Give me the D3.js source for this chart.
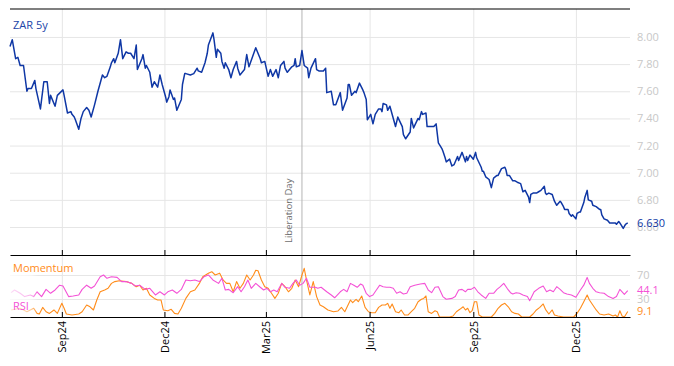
<!DOCTYPE html>
<html><head><meta charset="utf-8">
<script src="https://cdn.jsdelivr.net/npm/d3@7"></script>
<style>
body{margin:0;background:#fff}
svg{display:block}
text{font-family:"Open Sans","Noto Sans",sans-serif}
</style>
</head><body>
<svg id="chart" width="674" height="366"></svg>
<script>
// ---------- data ----------
const seriesName = "ZAR 5y";
const priceDates = [
"2024-07-17","2024-07-19","2024-07-22","2024-07-24","2024-07-26","2024-07-29",
"2024-08-01","2024-08-02","2024-08-05","2024-08-08","2024-08-09","2024-08-13","2024-08-16","2024-08-19","2024-08-21","2024-08-22","2024-08-26","2024-08-28",
"2024-09-02","2024-09-03","2024-09-06","2024-09-09","2024-09-10","2024-09-12","2024-09-13","2024-09-16","2024-09-18","2024-09-20","2024-09-23","2024-09-25","2024-09-27","2024-09-30",
"2024-10-03","2024-10-07","2024-10-09","2024-10-11","2024-10-14","2024-10-15","2024-10-17","2024-10-18","2024-10-21","2024-10-23","2024-10-25","2024-10-28","2024-10-30",
"2024-11-01","2024-11-04","2024-11-06","2024-11-07","2024-11-11","2024-11-12","2024-11-14","2024-11-15","2024-11-18","2024-11-20","2024-11-22","2024-11-25","2024-11-27","2024-11-29",
"2024-12-02","2024-12-03","2024-12-05","2024-12-06","2024-12-09","2024-12-10","2024-12-12","2024-12-16","2024-12-17","2024-12-19","2024-12-20","2024-12-24","2024-12-27","2024-12-30","2024-12-31",
"2025-01-03","2025-01-06","2025-01-08","2025-01-09","2025-01-13","2025-01-14","2025-01-16","2025-01-17","2025-01-20","2025-01-21","2025-01-23","2025-01-24","2025-01-27","2025-01-29","2025-01-31",
"2025-02-03","2025-02-04","2025-02-06","2025-02-10","2025-02-12","2025-02-14","2025-02-17","2025-02-20","2025-02-24","2025-02-25","2025-02-28",
"2025-03-03","2025-03-05","2025-03-07","2025-03-10","2025-03-12","2025-03-14","2025-03-17","2025-03-18","2025-03-20","2025-03-24","2025-03-26","2025-03-27","2025-03-28","2025-03-31",
"2025-04-02","2025-04-04","2025-04-07","2025-04-08","2025-04-10","2025-04-14","2025-04-15","2025-04-17","2025-04-21","2025-04-23","2025-04-24","2025-04-28","2025-04-30",
"2025-05-02","2025-05-06","2025-05-08","2025-05-12","2025-05-13","2025-05-14","2025-05-16","2025-05-19","2025-05-20","2025-05-23","2025-05-26","2025-05-27","2025-05-29","2025-05-30",
"2025-06-02","2025-06-04","2025-06-06","2025-06-09","2025-06-11","2025-06-12","2025-06-13","2025-06-16","2025-06-17","2025-06-19","2025-06-20","2025-06-24","2025-06-26","2025-06-30",
"2025-07-01","2025-07-03","2025-07-07","2025-07-08","2025-07-10","2025-07-14","2025-07-15","2025-07-17","2025-07-18","2025-07-21","2025-07-22","2025-07-24","2025-07-28","2025-07-30",
"2025-08-01","2025-08-04","2025-08-05","2025-08-07","2025-08-08","2025-08-11","2025-08-13","2025-08-15","2025-08-18","2025-08-19","2025-08-22","2025-08-25","2025-08-26","2025-08-27","2025-08-29",
"2025-09-01","2025-09-03","2025-09-04","2025-09-08","2025-09-09","2025-09-10","2025-09-12","2025-09-15","2025-09-17","2025-09-19","2025-09-22","2025-09-23","2025-09-26","2025-09-29","2025-09-30",
"2025-10-01","2025-10-03","2025-10-06","2025-10-08","2025-10-10","2025-10-13","2025-10-15","2025-10-17","2025-10-20","2025-10-21","2025-10-22","2025-10-24","2025-10-27","2025-10-29","2025-10-31",
"2025-11-03","2025-11-04","2025-11-05","2025-11-07","2025-11-10","2025-11-12","2025-11-14","2025-11-17","2025-11-18","2025-11-20","2025-11-21","2025-11-24","2025-11-25","2025-11-27","2025-11-28",
"2025-12-01","2025-12-02","2025-12-04","2025-12-05","2025-12-08","2025-12-09","2025-12-11","2025-12-12","2025-12-15","2025-12-16","2025-12-19","2025-12-22","2025-12-23","2025-12-24","2025-12-26","2025-12-29","2025-12-31",
"2026-01-02","2026-01-05","2026-01-06","2026-01-08","2026-01-09","2026-01-12","2026-01-14","2026-01-16"
];
const priceValues = [
7.93,7.98,7.84,7.85,7.79,7.79,
7.60,7.62,7.62,7.68,7.62,7.47,7.67,7.67,7.51,7.57,7.49,7.57,
7.61,7.57,7.44,7.45,7.43,7.41,7.39,7.32,7.40,7.45,7.48,7.46,7.41,7.50,
7.60,7.72,7.70,7.71,7.78,7.81,7.84,7.81,7.88,7.98,7.84,7.89,7.88,
7.88,7.84,7.94,7.76,7.84,7.87,7.77,7.79,7.74,7.63,7.67,7.63,7.72,7.65,
7.56,7.52,7.56,7.61,7.54,7.55,7.46,7.54,7.65,7.73,7.73,7.72,7.73,7.77,7.75,
7.74,7.81,7.88,7.94,8.03,7.98,7.85,7.91,7.88,7.82,7.77,7.81,7.76,7.70,7.76,
7.82,7.77,7.72,7.76,7.87,7.78,7.85,7.92,7.84,7.81,7.82,
7.71,7.76,7.71,7.76,7.70,7.79,7.82,7.77,7.74,7.78,7.79,7.84,7.78,7.79,
7.90,7.79,7.77,7.70,7.77,7.84,7.76,7.75,7.75,7.77,7.59,7.60,7.50,
7.50,7.59,7.46,7.55,7.65,7.65,7.57,7.60,7.59,7.66,7.61,7.59,7.54,7.39,
7.43,7.36,7.43,7.47,7.47,7.45,7.51,7.50,7.46,7.49,7.46,7.34,7.41,7.34,
7.28,7.25,7.30,7.40,7.33,7.40,7.39,7.45,7.43,7.44,7.34,7.34,7.34,7.36,
7.22,7.18,7.16,7.11,7.08,7.10,7.05,7.06,7.12,7.09,7.15,7.08,7.12,7.09,7.13,
7.10,7.15,7.11,7.04,7.01,7.01,6.97,6.95,6.89,6.96,6.98,6.98,7.03,7.04,7.02,
6.98,6.98,6.94,6.94,6.93,6.92,6.86,6.87,6.82,6.78,6.84,6.85,6.85,6.86,6.87,
6.90,6.85,6.84,6.85,6.84,6.79,6.76,6.79,6.78,6.75,6.73,6.73,6.70,6.68,6.69,
6.66,6.70,6.71,6.71,6.78,6.82,6.87,6.80,6.79,6.76,6.75,6.73,6.73,6.69,6.66,6.65,6.63,
6.63,6.63,6.62,6.64,6.63,6.59,6.62,6.63
];
const rsiDates = [
"2024-07-18","2024-07-21","2024-07-26","2024-07-30","2024-08-04","2024-08-07","2024-08-10","2024-08-14","2024-08-18","2024-08-22","2024-08-26","2024-08-30",
"2024-09-02","2024-09-07","2024-09-11","2024-09-16","2024-09-19","2024-09-23","2024-09-27","2024-09-30",
"2024-10-05","2024-10-08","2024-10-11","2024-10-15","2024-10-20","2024-10-24","2024-10-28",
"2024-11-02","2024-11-05","2024-11-09","2024-11-14","2024-11-18","2024-11-23","2024-11-27",
"2024-12-01","2024-12-04","2024-12-08","2024-12-12","2024-12-16","2024-12-20","2024-12-24","2024-12-28",
"2025-01-01","2025-01-05","2025-01-09","2025-01-13","2025-01-18","2025-01-21","2025-01-24","2025-01-27","2025-01-31",
"2025-02-04","2025-02-07","2025-02-10","2025-02-13","2025-02-16","2025-02-20","2025-02-24","2025-02-27",
"2025-03-02","2025-03-05","2025-03-08","2025-03-11","2025-03-15","2025-03-18","2025-03-22","2025-03-25","2025-03-28","2025-03-31",
"2025-04-03","2025-04-06","2025-04-09","2025-04-14","2025-04-16","2025-04-19","2025-04-24","2025-04-28",
"2025-05-01","2025-05-06","2025-05-09","2025-05-12","2025-05-15","2025-05-18","2025-05-21","2025-05-24","2025-05-26","2025-05-29",
"2025-06-01","2025-06-04","2025-06-07","2025-06-10","2025-06-13","2025-06-16","2025-06-19","2025-06-22","2025-06-25","2025-06-28",
"2025-07-01","2025-07-04","2025-07-07","2025-07-11","2025-07-16","2025-07-20","2025-07-23","2025-07-26","2025-07-29",
"2025-08-01","2025-08-05","2025-08-08","2025-08-13","2025-08-16","2025-08-19","2025-08-22","2025-08-25","2025-08-27","2025-08-30",
"2025-09-02","2025-09-05","2025-09-08","2025-09-12","2025-09-15","2025-09-19","2025-09-22","2025-09-25","2025-09-28",
"2025-10-01","2025-10-04","2025-10-06","2025-10-09","2025-10-12","2025-10-15","2025-10-19","2025-10-21","2025-10-25","2025-10-29",
"2025-11-02","2025-11-05","2025-11-08","2025-11-11","2025-11-14","2025-11-17","2025-11-20","2025-11-23","2025-11-27",
"2025-12-01","2025-12-05","2025-12-08","2025-12-11","2025-12-13","2025-12-16","2025-12-19","2025-12-22","2025-12-26","2025-12-30",
"2026-01-03","2026-01-06","2026-01-09","2026-01-13","2026-01-16"
];
const rsiValues = [
40.5,45,39.5,34,36.7,34,42,34,46,39.5,45,53,
51.7,34,35,36.7,46,53,47.8,51.7,
67,70,64.5,67,66,59,59,
56,51.7,53,46,47.8,36.7,42,
36.7,42,45,39.5,46,61.7,60.5,61.7,
59,67,70,61.7,56,64.5,45,46,40.5,
50.5,42,50.5,61.7,47.8,56,49.5,45,
47.8,42,45,42,56,49.5,47.8,56,61.7,53,
56,64.5,49.5,49.5,47.8,49.5,42,36.7,
32,42,46,42,56,53,49.5,55,53,39.5,
34,36.7,45,53,50.5,49.5,49.5,47.8,39.5,42,
38.3,39.5,50.5,53,55,56,45,40.5,49.5,
50.5,34,29.5,31,34,45,46,42,46,46,
49.5,42,36.7,31,39.5,39.5,46,50.5,56,
47.8,40.5,38.3,40.5,39.5,36.7,34,27,42,47.8,
51.7,42,45,42,50.5,46,40.5,38.3,36.7,
33,45,53,66,56,47.8,42,40.5,39.5,34,
31,34,46,37.8,44.1
];
const momDates = [
"2024-07-18","2024-07-26","2024-08-01","2024-08-07","2024-08-10","2024-08-12","2024-08-15","2024-08-18","2024-08-21","2024-08-25","2024-08-28",
"2024-09-01","2024-09-03","2024-09-05","2024-09-10","2024-09-16","2024-09-19","2024-09-23","2024-09-26","2024-09-29",
"2024-10-02","2024-10-05","2024-10-09","2024-10-12","2024-10-15","2024-10-18","2024-10-22","2024-10-28",
"2024-11-02","2024-11-06","2024-11-09","2024-11-12","2024-11-15","2024-11-18","2024-11-22","2024-11-25","2024-11-28","2024-11-30",
"2024-12-04","2024-12-07","2024-12-10","2024-12-13","2024-12-16","2024-12-20","2024-12-24","2024-12-28",
"2025-01-01","2025-01-04","2025-01-09","2025-01-12","2025-01-15","2025-01-19","2025-01-22","2025-01-25","2025-01-28","2025-01-31",
"2025-02-03","2025-02-06","2025-02-09","2025-02-12","2025-02-15","2025-02-18","2025-02-20","2025-02-22","2025-02-25","2025-02-28",
"2025-03-03","2025-03-06","2025-03-09","2025-03-12","2025-03-15","2025-03-18","2025-03-21","2025-03-24","2025-03-27","2025-03-30",
"2025-04-02","2025-04-04","2025-04-06","2025-04-09","2025-04-12","2025-04-15","2025-04-18","2025-04-21","2025-04-25","2025-04-30",
"2025-05-04","2025-05-07","2025-05-10","2025-05-15","2025-05-17","2025-05-20","2025-05-22","2025-05-25","2025-05-28","2025-05-31",
"2025-06-03","2025-06-06","2025-06-09","2025-06-12","2025-06-15","2025-06-17","2025-06-19","2025-06-21","2025-06-24","2025-06-27","2025-06-29",
"2025-07-02","2025-07-05","2025-07-08","2025-07-11","2025-07-14","2025-07-17","2025-07-19","2025-07-21","2025-07-23","2025-07-26","2025-07-29","2025-07-31",
"2025-08-02","2025-08-07","2025-08-11","2025-08-14","2025-08-17","2025-08-20","2025-08-23","2025-08-25","2025-08-27","2025-08-29","2025-08-31",
"2025-09-02","2025-09-04","2025-09-06","2025-09-09","2025-09-13","2025-09-17","2025-09-20","2025-09-23","2025-09-26","2025-09-29",
"2025-10-02","2025-10-05","2025-10-08","2025-10-11","2025-10-14","2025-10-18","2025-10-21","2025-10-24","2025-10-27","2025-10-30",
"2025-11-02","2025-11-04","2025-11-07","2025-11-10","2025-11-12","2025-11-15","2025-11-20","2025-11-24","2025-11-29",
"2025-12-02","2025-12-05","2025-12-08","2025-12-11","2025-12-13","2025-12-16","2025-12-19","2025-12-22","2025-12-26","2025-12-30",
"2026-01-03","2026-01-05","2026-01-07","2026-01-09","2026-01-11","2026-01-13","2026-01-16"
];
const momValues = [
11.7,14.5,8.8,14.5,6,5,16,8.8,6,11.7,6,
22.8,14.5,5,3.3,5,8.8,20,17,11.7,
28.3,42,45,47.8,56,59,60.5,59,
56,50.5,53,45,47.8,36.7,31,28.3,28.3,11.7,
10.5,12.8,6,5,14.5,31,42,45,
56,67,73,75.5,70,73,61.7,56,56,42,
59,47.8,56,70,61.7,70,78,77,61.7,50.5,
47.8,39.5,31,39.5,56,50.5,42,47.8,61.7,50.5,
70,81,61.7,36.7,59,34,20,17,11.7,8.8,
10,16,8.8,28.3,23.8,29.5,25.5,35,16,8.8,
7.2,7.2,16,20,20,22.8,14.5,21.7,8.8,7.2,11.7,
3.3,3.3,8.8,14.5,25.5,29.5,31,35,8.8,6,10.5,8.8,
0,0,0,1.7,8.8,12.8,17,11.7,14.5,7.2,10.5,
25.5,25.5,3.3,0,0,0,6,14.5,20,22.8,
17,8.8,6,5,0,0,0,5,11.7,16,
21.7,12.8,5,11.7,3.3,1.7,0,0,0,
6,14.5,25.5,36.7,28.3,20,11.7,5,3.3,5,
1.7,3.3,0,10.5,1.7,0,9.1
];
const priceTicks = [6.6,6.8,7.0,7.2,7.4,7.6,7.8,8.0];
const indicatorTicks = [30,70];
const monthTicks = ["2024-09-01","2024-12-01","2025-03-01","2025-06-01","2025-09-01","2025-12-01"];
const eventDate = "2025-04-02";
const eventLabel = "Liberation Day";
const xDomain = ["2024-07-17","2026-01-18"];

// ---------- layout / style ----------
const L = 10, R = 630, mainTop = 9, mainBot = 255, indTop = 255, indBot = 317;
const C = {price:"#0f37a5", priceText:"#2145a8", rsi:"#f452d6", mom:"#ff8c1a",
           grid:"#e6e6e6", axisText:"#c8c8c8", event:"#b4b4b4", eventText:"#6e6e6e"};

const parse = d3.utcParse("%Y-%m-%d");
const price = priceDates.map((d,i)=>({date:parse(d), value:priceValues[i]}));
const rsi = rsiDates.map((d,i)=>({date:parse(d), value:rsiValues[i]}));
const mom = momDates.map((d,i)=>({date:parse(d), value:momValues[i]}));
const months = monthTicks.map(parse);

const svg = d3.select("#chart");
const x = d3.scaleUtc().domain(xDomain.map(parse)).range([L, R]);
const y = d3.scaleLinear().domain([6.394, 8.206]).range([mainBot, mainTop]);
const yi = d3.scaleLinear().domain([0, 103.3]).range([indBot, indTop]);

function styleGrid(g){ g.select(".domain").remove(); g.selectAll("line").attr("stroke", C.grid).attr("stroke-width",1); }

// grids
svg.append("g").attr("transform",`translate(${L},0)`)
  .call(d3.axisRight(y).tickValues(priceTicks).tickSize(R-L).tickFormat("")).call(styleGrid);
svg.append("g").attr("transform",`translate(${L},0)`)
  .call(d3.axisRight(yi).tickValues(indicatorTicks).tickSize(R-L).tickFormat("")).call(styleGrid);
svg.append("g").attr("transform",`translate(0,${mainBot})`)
  .call(d3.axisTop(x).tickValues(months).tickSize(mainBot-mainTop).tickFormat("")).call(styleGrid);
svg.append("g").attr("transform",`translate(0,${indBot})`)
  .call(d3.axisTop(x).tickValues(months).tickSize(indBot-indTop).tickFormat("")).call(styleGrid);

// event line
const ex = x(parse(eventDate));
svg.append("line").attr("x1",ex).attr("x2",ex).attr("y1",mainTop).attr("y2",indBot)
  .attr("stroke",C.event).attr("stroke-width",1);
svg.append("text").attr("transform",`translate(${ex-10},${mainBot-12}) rotate(-90)`)
  .attr("text-anchor","start").attr("font-size",9.5).attr("fill",C.eventText).text(eventLabel);

// lines
const line = (ys)=>d3.line().x(d=>x(d.date)).y(d=>ys(d.value));
svg.append("path").datum(mom).attr("d",line(yi)).attr("fill","none").attr("stroke",C.mom).attr("stroke-width",1.1).attr("stroke-linejoin","round");
svg.append("path").datum(rsi).attr("d",line(yi)).attr("fill","none").attr("stroke",C.rsi).attr("stroke-width",1.1).attr("stroke-linejoin","round");
svg.append("path").datum(price).attr("d",line(y)).attr("fill","none").attr("stroke",C.price).attr("stroke-width",1.5).attr("stroke-linejoin","round");

// fade at start of indicators
const defs = svg.append("defs");
const grad = defs.append("linearGradient").attr("id","fade").attr("x1","0").attr("x2","1").attr("y1","0").attr("y2","0");
grad.append("stop").attr("offset","0%").attr("stop-color","#fff").attr("stop-opacity",0.8);
grad.append("stop").attr("offset","75%").attr("stop-color","#fff").attr("stop-opacity",0.55);
grad.append("stop").attr("offset","100%").attr("stop-color","#fff").attr("stop-opacity",0);
svg.append("rect").attr("x",L).attr("y",indTop+1).attr("width",28).attr("height",indBot-indTop-2).attr("fill","url(#fade)");

// axes (black lines)
svg.append("line").attr("x1",L).attr("x2",R).attr("y1",mainTop).attr("y2",mainTop).attr("stroke","#000").attr("stroke-width",1.2);
const midAxis = svg.append("g").attr("transform",`translate(0,${mainBot})`)
  .call(d3.axisBottom(x).tickValues(months).tickSizeInner(-5).tickSizeOuter(0).tickFormat(""));
midAxis.selectAll("path,line").attr("stroke","#000");
const botAxis = svg.append("g").attr("transform",`translate(0,${indBot})`)
  .call(d3.axisBottom(x).tickValues(months).tickSizeInner(-5).tickSizeOuter(0).tickFormat(d3.utcFormat("%b%y")));
botAxis.selectAll("path,line").attr("stroke","#000");
botAxis.selectAll("text").attr("transform","rotate(-90)").attr("x",-4).attr("y",0).attr("dy","0.35em")
  .attr("text-anchor","end").attr("font-size",11).attr("fill","#000").style("font-family",'"Open Sans",sans-serif');

// right axes
function styleRight(g){ g.select(".domain").remove(); g.selectAll("text").attr("fill",C.axisText).attr("font-size",11).style("font-family",'"Open Sans",sans-serif'); }
svg.append("g").attr("transform",`translate(${R},0)`)
  .call(d3.axisRight(y).tickValues(priceTicks).tickSize(0).tickPadding(7).tickFormat(d3.format(".2f"))).call(styleRight);
svg.append("g").attr("transform",`translate(${R},0)`)
  .call(d3.axisRight(yi).tickValues(indicatorTicks).tickSize(0).tickPadding(7).tickFormat(d3.format("d"))).call(styleRight);

// last value labels
const lastP = price[price.length-1], lastR = rsi[rsi.length-1], lastM = mom[mom.length-1];
const lab = (v, ys, fmt, col)=>svg.append("text").attr("x",R+7).attr("y",ys(v)).attr("dy","0.35em")
  .attr("font-size",11).attr("fill",col).text(d3.format(fmt)(v));
lab(lastP.value, y, ".3f", C.price);
lab(lastR.value, yi, ".1f", C.rsi);
lab(lastM.value, yi, ".1f", C.mom);

// panel labels
svg.append("text").attr("x",13).attr("y",29).attr("font-size",11).attr("fill",C.priceText).text(seriesName);
svg.append("text").attr("x",13).attr("y",272).attr("font-size",11).attr("fill",C.mom).text("Momentum");
svg.append("text").attr("x",13).attr("y",310).attr("font-size",11).attr("fill",C.rsi).text("RSI");
</script>
</body></html>
